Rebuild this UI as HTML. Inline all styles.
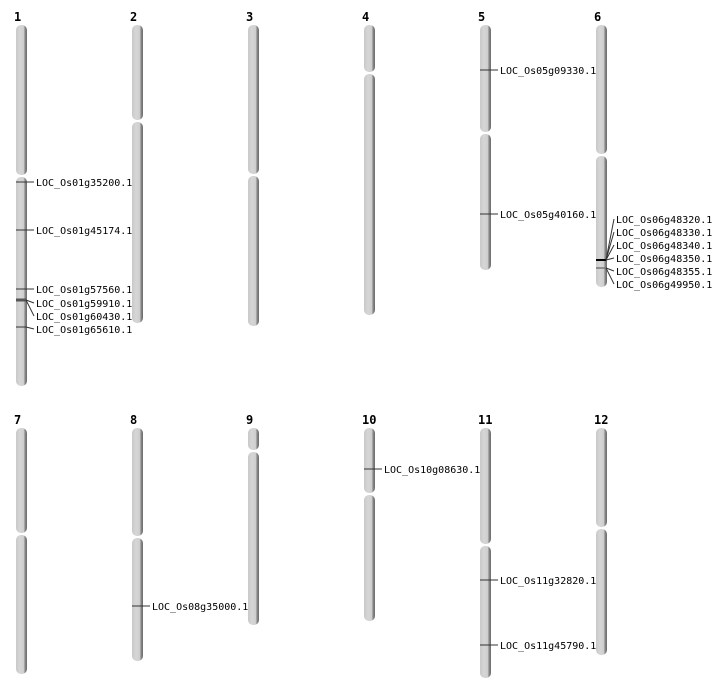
<!DOCTYPE html>
<html><head><meta charset="utf-8"><style>
html,body{margin:0;padding:0;background:#fff}
svg{display:block}
text{font-family:"DejaVu Sans Mono","Liberation Mono",monospace;font-size:10px;fill:#000}
.n{font-family:"DejaVu Sans Mono","Liberation Mono",monospace;font-weight:bold;font-size:12px}
</style></head><body>
<svg id="s" width="712" height="700" xmlns="http://www.w3.org/2000/svg">
<defs>
<linearGradient id="g" x1="0" x2="1" y1="0" y2="0">
<stop offset="0" stop-color="#c8c8c8"/><stop offset="0.35" stop-color="#d6d6d6"/><stop offset="0.7" stop-color="#cfcfcf"/><stop offset="0.82" stop-color="#8a8a8a"/><stop offset="1" stop-color="#6a6a6a"/>
</linearGradient>
</defs>
</svg>
<script>
var s=document.getElementById('s'),NS='http://www.w3.org/2000/svg';
function el(t,a,txt){var e=document.createElementNS(NS,t);for(var k in a)e.setAttribute(k,a[k]);if(txt)e.textContent=txt;s.appendChild(e);return e;}
var ch=[["1",16,25,176,386],["2",132,25,121,323],["3",248,25,175,326],["4",364,25,73,315],["5",480,25,133,270],["6",596,25,155,287],
["7",16,428,534,674],["8",132,428,537,661],["9",248,428,451,625],["10",364,428,494,621],["11",480,428,545,678],["12",596,428,528,655]];
ch.forEach(function(c){var x=c[1],t=c[2],m=c[3],b=c[4];
el('text',{x:x-2,y:t-4,'class':'n'},c[0]);
el('rect',{x:x,y:t,width:11,height:m-t-1,rx:5,fill:'url(#g)'});
el('rect',{x:x,y:m+1,width:11,height:b-m-1,rx:5,fill:'url(#g)'});
});
function ln(x1,y1,x2,y2,c,w){el('line',{x1:x1,y1:y1,x2:x2,y2:y2,stroke:c||'#333','stroke-width':w||1});}
function simple(x,y,lab){ln(x,y,x+18,y);el('text',{x:x+20,y:y+4},lab);}
simple(16,182,"LOC_Os01g35200.1");simple(16,230,"LOC_Os01g45174.1");simple(16,289,"LOC_Os01g57560.1");
ln(16,327,26,327);ln(26,327,34,329);el('text',{x:36,y:333},"LOC_Os01g65610.1");
ln(16,300,26,300,'#555',3);ln(26,300,34,303);ln(26,300,34,316);
el('text',{x:36,y:307},"LOC_Os01g59910.1");el('text',{x:36,y:320},"LOC_Os01g60430.1");
simple(480,70,"LOC_Os05g09330.1");simple(480,214,"LOC_Os05g40160.1");
ln(596,260,606,260,'#000',2);ln(596,268,606,268,'#777',1.5);
[219,232,245,258,271,284].forEach(function(y,i){ln(606,i<4?260:268,614,y);});
["48320","48330","48340","48350","48355","49950"].forEach(function(g,i){el('text',{x:616,y:223+13*i},"LOC_Os06g"+g+".1");});
simple(132,606,"LOC_Os08g35000.1");simple(364,469,"LOC_Os10g08630.1");
simple(480,580,"LOC_Os11g32820.1");simple(480,645,"LOC_Os11g45790.1");
</script>
</body></html>
